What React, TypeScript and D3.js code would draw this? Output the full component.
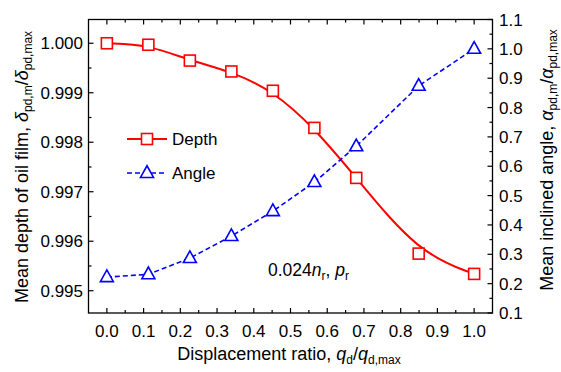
import React from "react";
import * as d3 from "d3";

const xValues = [0, 0.113, 0.226, 0.339, 0.452, 0.565, 0.679, 0.849, 1.0];
const depthValues = [1.0, 0.99997, 0.99965, 0.99943, 0.99904, 0.99829, 0.99728, 0.99575, 0.99534];
const angleValues = [0.222, 0.232, 0.287, 0.362, 0.447, 0.546, 0.668, 0.874, 1.0];
const xTicks = [0, 0.1, 0.2, 0.3, 0.4, 0.5, 0.6, 0.7, 0.8, 0.9, 1.0];
const leftTicks = [0.995, 0.996, 0.997, 0.998, 0.999, 1.0];
const rightTicks = [0.1, 0.2, 0.3, 0.4, 0.5, 0.6, 0.7, 0.8, 0.9, 1.0, 1.1];

const W = 561, H = 372;
const L = 88.5, R = 492.5, T = 19.5, B = 313;
const FONT = "'Liberation Sans', Arial, sans-serif";

export default function App() {
  const x = d3.scaleLinear().domain([-0.05, 1.05]).range([L, R]);
  const yL = d3.scaleLinear().domain([0.99455, 1.00048]).range([B, T]);
  const yR = d3.scaleLinear().domain([0.1, 1.1]).range([B, T]);

  const depthLine = d3.line<number>()
    .x((_, i) => x(xValues[i]))
    .y((d) => yL(d))
    .curve(d3.curveBasis)(depthValues) as string;
  const angleLine = d3.line<number>()
    .x((_, i) => x(xValues[i]))
    .y((d) => yR(d))(angleValues) as string;

  const xMinor = d3.range(-0.05, 1.051, 0.1).filter((v) => v > -0.05 + 1e-6 && v < 1.05 - 1e-6);
  const lMinor = d3.range(0.9945, 1.0005, 0.001).filter((v) => v > 0.99455 && v < 1.00048);
  const rMinor = d3.range(0.15, 1.1, 0.1);

  const tri = (cx: number, cy: number, s: number) => {
    const h = s * 0.9;
    return `M${cx},${cy - h * 0.62} L${cx + s / 2},${cy + h * 0.38} L${cx - s / 2},${cy + h * 0.38} Z`;
  };

  const MAJ = 5, MIN = 3;
  const TF = 18;

  return (
    <svg width={W} height={H} style={{ position: "absolute", left: 0, top: 0, background: "#fff" }} fontFamily={FONT}>
      <rect x={0} y={0} width={W} height={H} fill="#fff" />
      <path d={depthLine} fill="none" stroke="#ff0000" strokeWidth={2} />
      <path d={angleLine} fill="none" stroke="#0000ff" strokeWidth={1.6} strokeDasharray="5,3" />
      {xValues.map((xv, i) => (
        <rect key={"s" + i} x={x(xv) - 5.5} y={yL(depthValues[i]) - 5.5} width={11} height={11}
          fill="#fff" stroke="#ff0000" strokeWidth={1.6} />
      ))}
      {xValues.map((xv, i) => (
        <path key={"t" + i} d={tri(x(xv), yR(angleValues[i]), 13)} fill="#fff" stroke="#0000ff" strokeWidth={1.6} />
      ))}

      <rect x={L} y={T} width={R - L} height={B - T} fill="none" stroke="#000" strokeWidth={1.3} />

      {xTicks.map((t) => (
        <g key={"xt" + t}>
          <line x1={x(t)} x2={x(t)} y1={B} y2={B - MAJ} stroke="#000" strokeWidth={1.2} />
          <line x1={x(t)} x2={x(t)} y1={T} y2={T + MAJ} stroke="#000" strokeWidth={1.2} />
          <text x={x(t)} y={337} fontSize={17} textAnchor="middle">{t.toFixed(1)}</text>
        </g>
      ))}
      {xMinor.map((t) => (
        <g key={"xm" + t}>
          <line x1={x(t)} x2={x(t)} y1={B} y2={B - MIN} stroke="#000" strokeWidth={1.2} />
          <line x1={x(t)} x2={x(t)} y1={T} y2={T + MIN} stroke="#000" strokeWidth={1.2} />
        </g>
      ))}

      {leftTicks.map((t) => (
        <g key={"lt" + t}>
          <line x1={L} x2={L + MAJ} y1={yL(t)} y2={yL(t)} stroke="#000" strokeWidth={1.2} />
          <text x={83} y={yL(t) + 6} fontSize={17} textAnchor="end">{t.toFixed(3)}</text>
        </g>
      ))}
      {lMinor.map((t) => (
        <line key={"lm" + t} x1={L} x2={L + MIN} y1={yL(t)} y2={yL(t)} stroke="#000" strokeWidth={1.2} />
      ))}

      {rightTicks.map((t) => (
        <g key={"rt" + t}>
          <line x1={R} x2={R - MAJ} y1={yR(t)} y2={yR(t)} stroke="#000" strokeWidth={1.2} />
          <text x={499} y={yR(t) + 6} fontSize={17} textAnchor="start">{t.toFixed(1)}</text>
        </g>
      ))}
      {rMinor.map((t) => (
        <line key={"rm" + t} x1={R} x2={R - MIN} y1={yR(t)} y2={yR(t)} stroke="#000" strokeWidth={1.2} />
      ))}

      <text x={289} y={360} fontSize={TF} textAnchor="middle">
        Displacement ratio, <tspan fontStyle="italic">q</tspan>
        <tspan fontSize={12} dy={4}>d</tspan>
        <tspan dy={-4}>/</tspan>
        <tspan fontStyle="italic">q</tspan>
        <tspan fontSize={12} dy={4}>d,max</tspan>
      </text>

      <text transform="translate(28,167) rotate(-90)" fontSize={TF} textAnchor="middle">
        Mean depth of oil film, <tspan fontStyle="italic">δ</tspan>
        <tspan fontSize={12} dy={4}>pd,m</tspan>
        <tspan dy={-4}>/</tspan>
        <tspan fontStyle="italic">δ</tspan>
        <tspan fontSize={12} dy={4}>pd,max</tspan>
      </text>

      <text transform="translate(553,160) rotate(-90)" fontSize={TF} textAnchor="middle">
        Mean inclined angle, <tspan fontStyle="italic">α</tspan>
        <tspan fontSize={12} dy={4}>pd,m</tspan>
        <tspan dy={-4}>/</tspan>
        <tspan fontStyle="italic">α</tspan>
        <tspan fontSize={12} dy={4}>pd,max</tspan>
      </text>

      <line x1={127} x2={167} y1={139} y2={139} stroke="#ff0000" strokeWidth={2} />
      <rect x={147 - 5.5} y={139 - 5.5} width={11} height={11} fill="#fff" stroke="#ff0000" strokeWidth={1.6} />
      <text x={172} y={145} fontSize={17}>Depth</text>
      <line x1={127} x2={167} y1={173} y2={173} stroke="#0000ff" strokeWidth={1.6} strokeDasharray="5,3" />
      <path d={tri(147, 173, 13)} fill="#fff" stroke="#0000ff" strokeWidth={1.6} />
      <text x={172} y={179} fontSize={17}>Angle</text>

      <text x={268} y={276} fontSize={17.5}>
        0.024<tspan fontStyle="italic">n</tspan>
        <tspan fontSize={12} dy={4}>r</tspan>
        <tspan dy={-4}>, </tspan>
        <tspan fontStyle="italic">p</tspan>
        <tspan fontSize={12} dy={4}>r</tspan>
      </text>
    </svg>
  );
}
